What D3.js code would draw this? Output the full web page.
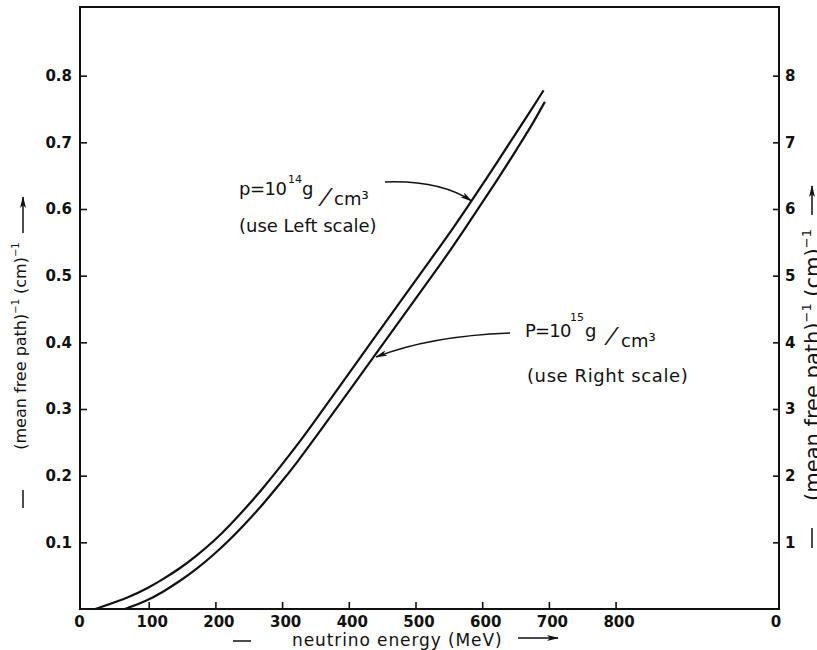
<!DOCTYPE html>
<html>
<head>
<meta charset="utf-8">
<script src="https://cdn.jsdelivr.net/npm/d3@7"></script>
<style>
    html, body { margin: 0; padding: 0; background: #fff; }
    svg { display: block; font-family: "DejaVu Sans", sans-serif; }
</style>
</head>
<body>
<svg id="svg_chart" width="817" height="650"></svg>
<script>
// rho = 10^14 g/cm3 curve, read on the left scale
let energy_14 = [20, 72, 100, 122, 147, 172, 198, 222, 247, 272, 297, 322, 347, 377, 427, 477, 527, 559, 584, 627, 652, 677, 692];
let mfp_14 = [0, 0.018, 0.032, 0.045, 0.061, 0.080, 0.102, 0.126, 0.153, 0.182, 0.213, 0.245, 0.279, 0.321, 0.391, 0.461, 0.530, 0.575, 0.612, 0.677, 0.716, 0.754, 0.778];

// rho = 10^15 g/cm3 curve, read on the right scale
let energy_15 = [64, 97, 122, 147, 172, 197, 222, 247, 272, 297, 322, 357, 397, 447, 497, 544, 571, 627, 652, 677, 694];
let mfp_15 = [0, 0.12, 0.26, 0.42, 0.60, 0.81, 1.04, 1.30, 1.58, 1.88, 2.19, 2.67, 3.22, 3.92, 4.61, 5.26, 5.66, 6.50, 6.90, 7.30, 7.61];

let x_ticks = [0, 100, 200, 300, 400, 500, 600, 700, 800];
let left_ticks = [0.1, 0.2, 0.3, 0.4, 0.5, 0.6, 0.7, 0.8];
let right_ticks = [1, 2, 3, 4, 5, 6, 7, 8];

let chart = (function () {

    function draw() {
        let svg = d3.select('#svg_chart');
        svg.selectAll('*').remove();
        let ink = '#111';

        let x = d3.scaleLinear().domain([0, 1045]).range([82, 779]);
        let yL = d3.scaleLinear().domain([0, 0.903]).range([609, 7]);
        let yR = d3.scaleLinear().domain([0, 9.03]).range([609, 7]);
        let left = 80, right = x.range()[1], top = yL.range()[1], bottom = yL.range()[0];

        // arrow head
        svg.append('defs').append('marker')
            .attr('id', 'head')
            .attr('viewBox', '0 0 12 6')
            .attr('refX', 11).attr('refY', 3)
            .attr('markerWidth', 12).attr('markerHeight', 6)
            .attr('markerUnits', 'userSpaceOnUse')
            .attr('orient', 'auto')
            .append('path')
            .attr('d', 'M0,0 L12,3 L0,6 L3,3 Z')
            .attr('fill', ink);

        // frame
        svg.append('path')
            .attr('d', `M${left},${top} H${right} V${bottom} H${left} Z`)
            .attr('fill', 'none')
            .attr('stroke', ink)
            .attr('stroke-width', 2);

        function styleAxis(g) {
            g.select('.domain').remove();
            g.attr('font-family', '"DejaVu Sans", sans-serif').attr('font-size', 15).attr('font-weight', 'bold');
            g.selectAll('line').attr('stroke', ink).attr('stroke-width', 1.6);
            g.selectAll('text').attr('fill', ink);
        }

        let gL = svg.append('g').attr('transform', `translate(${left},0)`)
            .call(d3.axisLeft(yL).tickValues(left_ticks).tickSize(-7).tickPadding(8).tickFormat(d3.format('.1f')));
        styleAxis(gL);

        let gR = svg.append('g').attr('transform', `translate(${right},0)`)
            .call(d3.axisRight(yR).tickValues(right_ticks).tickSize(-6).tickPadding(6).tickFormat(d3.format('d')));
        styleAxis(gR);

        let gB = svg.append('g').attr('transform', `translate(0,${bottom})`)
            .call(d3.axisBottom(x).tickValues(x_ticks).tickSize(-7).tickPadding(7));
        styleAxis(gB);
        gB.selectAll('.tick').filter(d => d === 0).select('line').remove();
        gB.selectAll('.tick text').attr('dx', d => d === 0 ? -3 : 3);

        // zero of the right scale, under the corner
        svg.append('text')
            .attr('x', right - 3).attr('y', bottom + 18)
            .attr('text-anchor', 'middle')
            .attr('font-size', 15).attr('font-weight', 'bold')
            .attr('fill', ink)
            .text('0');

        // curves
        let lineL = d3.line().x(d => x(d[0])).y(d => yL(d[1])).curve(d3.curveBasis);
        let lineR = d3.line().x(d => x(d[0])).y(d => yR(d[1])).curve(d3.curveBasis);
        svg.append('path')
            .attr('d', lineL(d3.zip(energy_14, mfp_14)))
            .attr('fill', 'none').attr('stroke', ink).attr('stroke-width', 2.2);
        svg.append('path')
            .attr('d', lineR(d3.zip(energy_15, mfp_15)))
            .attr('fill', 'none').attr('stroke', ink).attr('stroke-width', 2.2);

        // annotations
        function label(px, py, str, size, extra) {
            let t = svg.append('text')
                .attr('x', px).attr('y', py)
                .attr('font-size', size)
                .attr('fill', ink)
                .text(str);
            if (extra) t.attr('letter-spacing', extra);
            return t;
        }
        function slash(px, py) {
            svg.append('text')
                .attr('transform', `translate(${px},${py}) skewX(-22)`)
                .attr('font-size', 22)
                .attr('fill', ink)
                .text('/');
        }

        label(239, 195, 'p=10', 18, -0.5);
        label(288, 183, '14', 11);
        label(302, 195, 'g', 18);
        slash(319, 204);
        label(334, 205, 'cm³', 18);
        label(239, 232, '(use Left scale)', 18);

        label(525, 337, 'P=10', 18, -0.8);
        label(570, 321, '15', 11);
        label(585, 337, 'g', 18);
        slash(605, 343);
        label(621, 347, 'cm³', 18);
        label(527, 382, '(use Right scale)', 18, 0.6);

        let tip1 = [x(584), yL(0.612)], tip2 = [x(441), yR(3.78)];
        svg.append('path')
            .attr('d', `M385,182 Q440,180 ${tip1[0]},${tip1[1]}`)
            .attr('fill', 'none').attr('stroke', ink).attr('stroke-width', 1.5)
            .attr('marker-end', 'url(#head)');
        svg.append('path')
            .attr('d', `M510,333 Q430,336 ${tip2[0]},${tip2[1]}`)
            .attr('fill', 'none').attr('stroke', ink).attr('stroke-width', 1.5)
            .attr('marker-end', 'url(#head)');

        // x axis title
        svg.append('line').attr('x1', 233).attr('x2', 251).attr('y1', 641).attr('y2', 641)
            .attr('stroke', ink).attr('stroke-width', 1.5);
        label(292, 646, 'neutrino energy (MeV)', 17, 0.9);
        svg.append('line').attr('x1', 518).attr('x2', 558).attr('y1', 638).attr('y2', 638)
            .attr('stroke', ink).attr('stroke-width', 1.5)
            .attr('marker-end', 'url(#head)');

        // y axis titles
        function yTitle(bx, cy, size, sup) {
            let t = svg.append('text')
                .attr('transform', `translate(${bx},${cy}) rotate(-90)`)
                .attr('text-anchor', 'middle')
                .attr('font-size', size)
                .attr('fill', ink);
            t.append('tspan').text('(mean free path)');
            t.append('tspan').attr('dy', -size * 0.45).attr('font-size', sup).text('−1');
            t.append('tspan').attr('dy', size * 0.45).text(' (cm)');
            t.append('tspan').attr('dy', -size * 0.45).attr('font-size', sup).text('−1');
        }
        yTitle(26, 346, 16, 10);
        svg.append('line').attr('x1', 23).attr('x2', 23).attr('y1', 233).attr('y2', 197)
            .attr('stroke', ink).attr('stroke-width', 1.5).attr('marker-end', 'url(#head)');
        svg.append('line').attr('x1', 23).attr('x2', 23).attr('y1', 490).attr('y2', 508)
            .attr('stroke', ink).attr('stroke-width', 1.5);

        yTitle(820, 365, 21, 13);
        svg.append('line').attr('x1', 812).attr('x2', 812).attr('y1', 215).attr('y2', 186)
            .attr('stroke', ink).attr('stroke-width', 1.5).attr('marker-end', 'url(#head)');
        svg.append('line').attr('x1', 812).attr('x2', 812).attr('y1', 528).attr('y2', 548)
            .attr('stroke', ink).attr('stroke-width', 1.5);
    }

    return {
        draw,
    }
})()

chart.draw();
</script>
</body>
</html>
